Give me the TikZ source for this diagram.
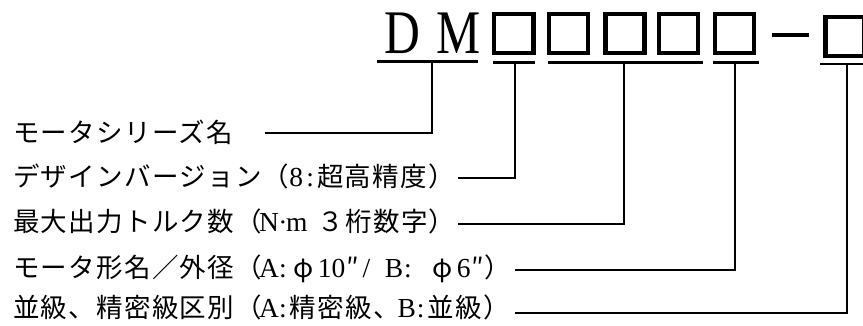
\documentclass[tikz,border=0pt]{standalone}
\usepackage{fontspec}
\setmainfont{Liberation Serif}
\newfontfamily\jpfont[LetterSpace=4.9]{Noto Sans CJK JP}
\newfontfamily\jpplain{Noto Sans CJK JP}
\newfontfamily\latser{Liberation Serif}
% half-width and full-width character cells
\newcommand\hc[1]{\makebox[13.9pt][c]{\fontsize{27.5}{30}\selectfont\latser #1}}
\newcommand\hj[1]{\makebox[13.9pt][c]{\jpplain #1}}
\newcommand\fc[1]{\makebox[27.8pt][c]{\jpplain #1}}
\begin{document}
\begin{tikzpicture}[x=1pt,y=-1pt,
  lbl/.style={anchor=base west, inner sep=0pt, font=\fontsize{26.5}{30}\selectfont\jpfont},
  digit/.style={draw, line width=4.2pt, minimum width=39.1pt, minimum height=39.1pt, inner sep=0pt},
  uline/.style={line width=2.4pt},
  conn/.style={line width=2pt},
  big/.style={anchor=base, inner sep=0pt, font=\fontsize{62}{62}\selectfont, xscale=0.8}]
\fill[white] (0,0) rectangle (863,326);
\useasboundingbox (0,0) rectangle (863,326);
% code letters and boxes
\node[big] (D) at (402.5,53.3) {D};
\node[big] (M) at (459,53.3) {M};
\node[digit] (b1) at (513.9,33.3) {};
\node[digit] (b2) at (568.3,33.3) {};
\node[digit] (b3) at (625,33.3) {};
\node[digit] (b4) at (678.3,33.3) {};
\node[digit] (b5) at (734.7,33.3) {};
\node[digit] (b6) at (845,36.2) {};
\coordinate (dashL) at (771.7,35);
\coordinate (dashR) at (809.3,35);
\draw[line width=4pt] (dashL) -- (dashR);
% underlines
\coordinate (u0a) at (377,61.7);   \coordinate (u0b) at (478,61.7);
\coordinate (u1a) at (492.7,62.7); \coordinate (u1b) at (535,62.7);
\coordinate (u2a) at (548,62.7);   \coordinate (u2b) at (702.7,62.7);
\coordinate (u3a) at (712.7,62.7); \coordinate (u3b) at (759,62.7);
\coordinate (u4a) at (820,64.3);   \coordinate (u4b) at (863,64.3);
\draw[uline] (u0a) -- (u0b);
\draw[uline] (u1a) -- (u1b);
\draw[uline] (u2a) -- (u2b);
\draw[uline] (u3a) -- (u3b);
\draw[uline] (u4a) -- (u4b);
% junctions on the underlines
\coordinate (j0) at (432.3,61.7);
\coordinate (j1) at (514.5,62.7);
\coordinate (j2) at (624,62.7);
\coordinate (j3) at (735,62.7);
\coordinate (j4) at (846.5,64.3);
% labels
\node[lbl] (l1) at (13,143) {モータシリーズ名};
\node[lbl] (l2) at (13,186.5) {デザインバージョン（\hc{8}\hc{:}超高精度）};
\node[lbl] (l3) at (13,231.5) {最大出力トルク数（\hc{N}\hc{·}\hc{m}\hc{ }３桁数字）};
\node[lbl] (l4) at (13,277) {モータ形名／外径（\hc{A}\hc{:}\fc{φ}\hc{1}\hc{0}\hj{″}\hc{/}\hc{ }\hc{B}\hc{:}\hc{ }\fc{φ}\hc{6}\hj{″}）};
\node[lbl] (l5) at (13,317) {並級、精密級区別（\hc{A}\hc{:}精密級、\hc{B}\hc{:}並級）};
% connector starts
\coordinate (s1) at (265,132.7);
\coordinate (s2) at (458,178);
\coordinate (s3) at (458,224.5);
\coordinate (s4) at (515,270);
\coordinate (s5) at (515,313);
\draw[conn] (s1) -| (j0);
\draw[conn] (s2) -| (j1);
\draw[conn] (s3) -| (j2);
\draw[conn] (s4) -| (j3);
\draw[conn] (s5) -| (j4);
\end{tikzpicture}
\end{document}
